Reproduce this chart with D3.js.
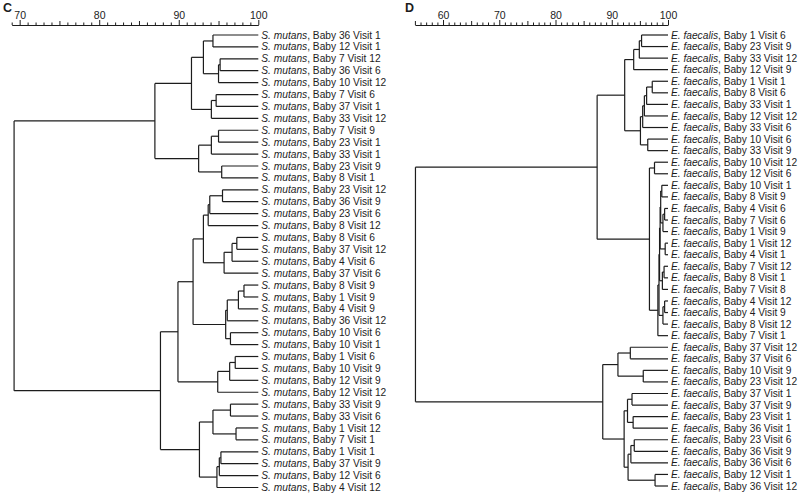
<!DOCTYPE html>
<html>
<head>
<meta charset="utf-8">
<script src="https://cdn.jsdelivr.net/npm/d3@7"></script>
<style>
  body { margin: 0; background: #fff; }
  svg { display: block; font-family: "Liberation Sans", Arial, sans-serif; }
</style>
</head>
<body>
<div id="chart"></div>
<script>
// Panel C - S. mutans isolates, top to bottom
const babiesC = [36, 12, 7, 36, 10, 7, 37, 33, 7, 23, 33, 23, 8, 23, 36, 23, 8, 8, 37, 4,
                 37, 8, 1, 4, 36, 10, 10, 1, 10, 12, 12, 33, 33, 1, 7, 1, 37, 12, 4];
const visitsC = [1, 1, 12, 6, 12, 6, 1, 12, 9, 1, 1, 9, 1, 12, 9, 6, 12, 6, 12, 6,
                 6, 9, 9, 9, 12, 6, 1, 6, 9, 9, 12, 9, 6, 12, 1, 1, 9, 6, 12];
// linkage rows: [a, b, % similarity]; ids < n are leaves, ids >= n are earlier rows
const mergesC = [
  [0, 1, 94.3], [2, 3, 95.2], [40, 4, 95.0], [39, 41, 93.1], [5, 6, 94.7],
  [43, 7, 94.1], [42, 44, 91.6], [8, 9, 95.0], [46, 10, 94.1], [11, 12, 95.4],
  [47, 48, 92.5], [45, 49, 87.0], [13, 14, 95.5], [51, 15, 93.9], [52, 16, 93.7],
  [17, 18, 97.3], [54, 19, 96.7], [55, 20, 95.7], [53, 56, 93.1], [21, 22, 98.2],
  [58, 23, 97.5], [59, 24, 96.1], [25, 26, 96.5], [60, 61, 95.9], [57, 62, 91.8],
  [27, 28, 97.1], [64, 29, 96.4], [65, 30, 94.9], [63, 66, 89.9], [31, 32, 96.5],
  [33, 34, 97.2], [68, 69, 94.3], [35, 36, 95.3], [71, 37, 95.1], [72, 38, 94.8],
  [70, 73, 92.6], [67, 74, 87.7], [50, 75, 69.3]
];

// Panel D - E. faecalis isolates, top to bottom
const babiesD = [1, 23, 33, 12, 1, 8, 33, 12, 33, 10, 33, 10, 12, 10, 8, 4, 7, 1, 1, 4,
                 7, 8, 7, 4, 4, 8, 7, 37, 37, 10, 23, 37, 37, 23, 36, 23, 36, 36, 12, 36];
const visitsD = [6, 9, 12, 9, 1, 6, 1, 12, 6, 6, 9, 12, 6, 1, 9, 6, 6, 9, 12, 1,
                 12, 1, 8, 12, 9, 12, 1, 12, 6, 9, 12, 1, 9, 1, 1, 6, 9, 6, 1, 12];
const mergesD = [
  [0, 1, 95.3], [40, 2, 94.9], [41, 3, 93.9], [4, 5, 97.2], [43, 6, 96.2],
  [44, 7, 95.8], [45, 8, 95.5], [9, 10, 96.4], [46, 47, 95.1], [42, 48, 92.3],
  [11, 12, 97.6], [13, 14, 98.9], [15, 16, 99.4], [52, 17, 99.1], [18, 19, 99.5],
  [20, 21, 99.3], [55, 22, 99.0], [23, 24, 99.4], [57, 25, 99.1], [51, 53, 98.7],
  [59, 54, 98.6], [60, 56, 98.5], [61, 58, 98.4], [62, 26, 98.2], [50, 63, 96.7],
  [49, 64, 87.4], [27, 28, 93.3], [29, 30, 95.6], [66, 67, 91.1], [31, 32, 93.6],
  [33, 34, 93.8], [69, 70, 92.8], [35, 36, 94.0], [72, 37, 93.4], [38, 39, 97.7],
  [73, 74, 92.9], [71, 75, 92.2], [68, 76, 88.4], [65, 77, 55.1]
];

const W = 798, H = 494;
const svg = d3.select('#chart').append('svg')
  .attr('width', W)
  .attr('height', H);

const ink = '#1c1c1c';

function buildTree(n, merges) {
  const nodes = d3.range(n).map(i => ({ leaf: i, sim: 100 }));
  merges.forEach(([a, b, s]) => nodes.push({ sim: s, children: [nodes[a], nodes[b]] }));
  return nodes[nodes.length - 1];
}

function drawPanel(opt) {
  const n = opt.babies.length;
  const g = svg.append('g');

  const x = d3.scaleLinear().domain(opt.domain).range(opt.xRange);
  const y = d3.scaleLinear().domain([0.5 / n, 1 - 0.5 / n]).range(opt.yRange);

  // panel letter
  g.append('text')
    .attr('x', opt.letterX)
    .attr('y', 12)
    .attr('font-size', 12.5)
    .attr('font-weight', 'bold')
    .attr('fill', ink)
    .text(opt.letter);

  // similarity axis on top, ticks pointing up
  const axis = d3.axisTop(x)
    .tickValues(d3.range(opt.domain[0], 101))
    .tickFormat(d => d % 10 === 0 ? d : '')
    .tickSizeOuter(0)
    .tickPadding(2);

  const ax = g.append('g')
    .attr('transform', 'translate(0, 25)')
    .call(axis);
  ax.select('.domain').attr('stroke', ink).attr('stroke-width', 1.2);
  ax.selectAll('.tick line')
    .attr('stroke', ink)
    .attr('y2', d => d % 10 === 0 ? -5 : (d % 5 === 0 ? -4 : -2.5));
  ax.selectAll('.tick text')
    .attr('font-size', 10.5)
    .attr('font-family', '"Liberation Sans", Arial, sans-serif')
    .attr('fill', ink)
    .attr('y', -6);

  // dendrogram
  const root = d3.hierarchy(buildTree(n, opt.merges));
  d3.cluster().size([1, 1]).separation(() => 1)(root);

  const links = g.append('g')
    .attr('fill', 'none')
    .attr('stroke', ink)
    .attr('stroke-width', 1.2);

  root.descendants().forEach(d => {
    if (d.parent) {
      links.append('line')
        .attr('x1', x(d.parent.data.sim))
        .attr('x2', x(d.data.sim))
        .attr('y1', y(d.x))
        .attr('y2', y(d.x));
    }
    if (d.children) {
      links.append('line')
        .attr('x1', x(d.data.sim))
        .attr('x2', x(d.data.sim))
        .attr('y1', y(d.children[0].x))
        .attr('y2', y(d.children[1].x));
    }
  });

  const labels = g.selectAll('.leaf')
    .data(root.leaves())
    .join('text')
    .attr('class', 'leaf')
    .attr('x', x(100) + 3)
    .attr('y', d => y(d.x))
    .attr('dy', '0.35em')
    .attr('font-size', 10.2)
    .attr('fill', ink);

  labels.append('tspan')
    .attr('font-style', 'italic')
    .text(opt.species);
  labels.append('tspan')
    .text(d => `, Baby ${opt.babies[d.data.leaf]} Visit ${opt.visits[d.data.leaf]}`);
}

drawPanel({
  letter: 'C', letterX: 3, species: 'S. mutans',
  babies: babiesC, visits: visitsC, merges: mergesC,
  domain: [69, 100], xRange: [11.7, 258.3], yRange: [35, 487.5]
});

drawPanel({
  letter: 'D', letterX: 405, species: 'E. faecalis',
  babies: babiesD, visits: visitsD, merges: mergesD,
  domain: [55, 100], xRange: [414.9, 668], yRange: [35, 486]
});
</script>
</body>
</html>
